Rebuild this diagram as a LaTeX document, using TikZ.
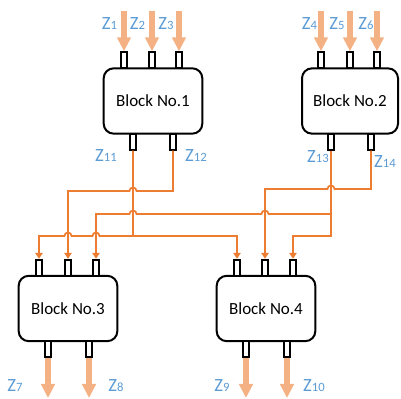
\documentclass[tikz,border=0pt]{standalone}
\usepackage{fontspec}
\setmainfont{Carlito}
\usepackage{xcolor}
\usepackage{tikz}
\usetikzlibrary{arrows.meta,calc}

\definecolor{wireor}{HTML}{ED7D31}
\definecolor{feedor}{HTML}{F4B183}
\definecolor{zblue}{HTML}{5B9BD5}
\newcommand{\zlab}[1]{Z{\fontsize{9.5}{11}\selectfont #1}}

\begin{document}
\begin{tikzpicture}[x=0.75pt,y=0.75pt,
    block/.style={rectangle,draw,line width=1.5pt,rounded corners=7.5pt,minimum width=74pt,minimum height=49pt,font=\fontsize{12.75}{15}\selectfont},
    port/.style={rectangle,draw,line width=1.5pt,fill=white,minimum width=4.5pt,minimum height=12pt,inner sep=0pt},
    wire/.style={draw=wireor,line width=1.3pt,-{Triangle[length=4.5pt,width=5.5pt]}},
    feed/.style={draw=feedor,line width=4.5pt,-{Triangle[length=10.5pt,width=10pt]}},
    zlabel/.style={text=zblue,font=\fontsize{14}{16}\selectfont,inner sep=0pt,anchor=base}]
    \useasboundingbox (0,0) rectangle (401,-399);

    % Blocks
    \node[block] (b1) at (153,-101) {Block No.1};
    \node[block,minimum width=72pt] (b2) at (350,-101) {Block No.2};
    \node[block] (b3) at (68,-308.5) {Block No.3};
    \node[block] (b4) at (266,-308.5) {Block No.4};

    % Ports of block 1 and 2
    \node[port] (b1i1) at (124,-60.3) {};
    \node[port] (b1i2) at (152,-60.3) {};
    \node[port] (b1i3) at (179,-60.3) {};
    \node[port] (b1o1) at (133,-141.7) {};
    \node[port] (b1o2) at (173,-141.7) {};
    \node[port] (b2i1) at (321,-60.3) {};
    \node[port] (b2i2) at (350,-60.3) {};
    \node[port] (b2i3) at (377,-60.3) {};
    \node[port] (b2o1) at (331,-141.7) {};
    \node[port] (b2o2) at (371,-141.7) {};

    % Ports of block 3 and 4
    \node[port] (b3i1) at (39,-267.8) {};
    \node[port] (b3i2) at (68,-267.8) {};
    \node[port] (b3i3) at (96,-267.8) {};
    \node[port] (b3o1) at (48,-349.2) {};
    \node[port] (b3o2) at (89,-349.2) {};
    \node[port] (b4i1) at (237,-267.8) {};
    \node[port] (b4i2) at (265,-267.8) {};
    \node[port] (b4i3) at (293,-267.8) {};
    \node[port] (b4o1) at (246,-349.2) {};
    \node[port] (b4o2) at (287,-349.2) {};

    % Outer inputs and outputs
    \coordinate (top) at (0,-11);
    \coordinate (bot) at (0,-398);
    \draw[feed] (b1i1 |- top) -- (b1i1.north);
    \draw[feed] (b1i2 |- top) -- (b1i2.north);
    \draw[feed] (b1i3 |- top) -- (b1i3.north);
    \draw[feed] (b2i1 |- top) -- (b2i1.north);
    \draw[feed] (b2i2 |- top) -- (b2i2.north);
    \draw[feed] (b2i3 |- top) -- (b2i3.north);
    \draw[feed] (b3o1.south) -- (b3o1 |- bot);
    \draw[feed] (b3o2.south) -- (b3o2 |- bot);
    \draw[feed] (b4o1.south) -- (b4o1 |- bot);
    \draw[feed] (b4o2.south) -- (b4o2 |- bot);

    % Wiring levels
    \coordinate (lva) at (0,-189);
    \coordinate (lvb) at (0,-191);
    \coordinate (lvc) at (0,-214);
    \coordinate (lvd) at (0,-236);

    % Z11 to block 3 and 4
    \draw[wire] (b1o1.south) -- (b1o1 |- lvd) -- ($(b3i3 |- lvd)+(3.5,0)$) arc[start angle=0,end angle=180,radius=3.5]
        -- ($(b3i2 |- lvd)+(3.5,0)$) arc[start angle=0,end angle=180,radius=3.5] -- (b3i1 |- lvd) -- (b3i1.north);
    \draw[wire] (b1o1 |- lvd) -| (b4i1.north);

    % Z12 to block 3
    \draw[wire] (b1o2.south) -- (b1o2 |- lvb) -- ($(b1o1 |- lvb)+(3.5,0)$) arc[start angle=0,end angle=180,radius=3.5]
        -- (b3i2 |- lvb) -- (b3i2.north);

    % Z13 to block 3 and 4
    \draw[wire] (b2o1.south) -- (b2o1 |- lvd) -| (b4i3.north);
    \draw[wire] (b2o1 |- lvc) -- ($(b4i2 |- lvc)+(3.5,0)$) arc[start angle=0,end angle=180,radius=3.5]
        -- ($(b1o1 |- lvc)+(3.5,0)$) arc[start angle=0,end angle=180,radius=3.5] -- (b3i3 |- lvc) -- (b3i3.north);

    % Z14 to block 4
    \draw[wire] (b2o2.south) -- (b2o2 |- lva) -- ($(b2o1 |- lva)+(3.5,0)$) arc[start angle=0,end angle=180,radius=3.5]
        -- (b4i2 |- lva) -- (b4i2.north);

    % Labels
    \node[zlabel] (z1) at (109.5,-30) {\zlab{1}};
    \node[zlabel] (z2) at (137.5,-30) {\zlab{2}};
    \node[zlabel] (z3) at (166,-30) {\zlab{3}};
    \node[zlabel] (z4) at (309.5,-30) {\zlab{4}};
    \node[zlabel] (z5) at (337,-30) {\zlab{5}};
    \node[zlabel] (z6) at (366,-30) {\zlab{6}};
    \node[zlabel] (z11) at (106,-162) {\zlab{11}};
    \node[zlabel] (z12) at (196,-162) {\zlab{12}};
    \node[zlabel] (z13) at (318,-163) {\zlab{13}};
    \node[zlabel] (z14) at (385,-168) {\zlab{14}};
    \node[zlabel] (z7) at (15,-392) {\zlab{7}};
    \node[zlabel] (z8) at (116,-392) {\zlab{8}};
    \node[zlabel] (z9) at (222,-392) {\zlab{9}};
    \node[zlabel] (z10) at (314,-392) {\zlab{10}};
\end{tikzpicture}
\end{document}
